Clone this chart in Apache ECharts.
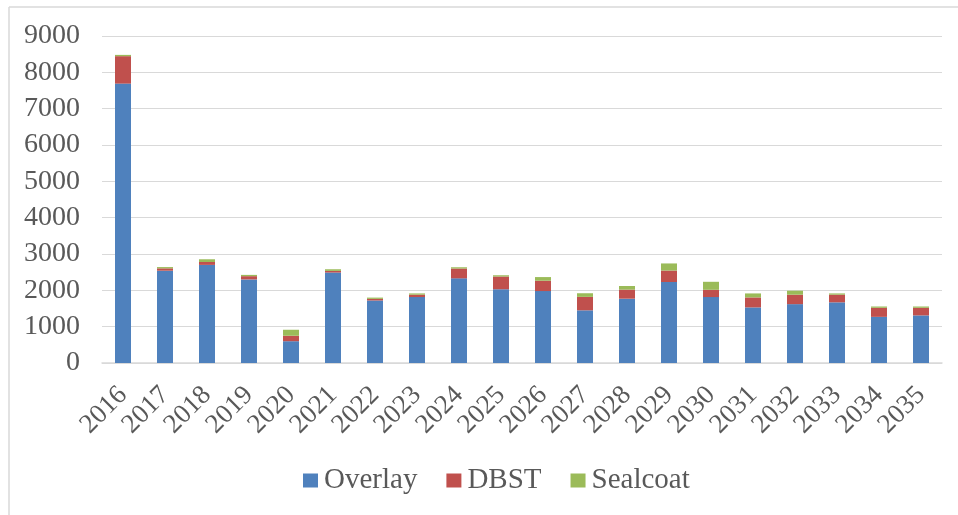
<!DOCTYPE html>
<html>
<head>
<meta charset="utf-8">
<script src="https://cdn.jsdelivr.net/npm/echarts@6/dist/echarts.min.js"></script>
<style>
html,body{margin:0;padding:0;background:#fff;}
#c{width:958px;height:515px;}
</style>
</head>
<body>
<div id="c"></div>
<script>
var categories = ['2016','2017','2018','2019','2020','2021','2022','2023','2024','2025','2026','2027','2028','2029','2030','2031','2032','2033','2034','2035'];
var overlay  = [7690, 2540, 2700, 2300, 600, 2490, 1720, 1815, 2330, 2030, 1980, 1450, 1770, 2230, 1815, 1530, 1620, 1670, 1270, 1310];
var dbst     = [755, 65, 80, 90, 150, 45, 45, 65, 270, 350, 285, 370, 250, 315, 200, 275, 260, 210, 250, 210];
var sealcoat = [35, 35, 75, 35, 165, 45, 35, 35, 35, 35, 100, 100, 100, 195, 220, 110, 110, 35, 35, 35];
var yTicks = [0, 1000, 2000, 3000, 4000, 5000, 6000, 7000, 8000, 9000];

var chart = echarts.init(document.getElementById('c'));
var font = 'Liberation Serif, Times New Roman, serif';
var textColor = '#595959';
function mk(name, data, color) {
  return { name: name, type: 'bar', stack: 'total', data: data, barWidth: 16,
    itemStyle: { color: color }, emphasis: { disabled: true } };
}
chart.setOption({
  animation: false,
  grid: { left: 102, right: 16, top: 36, bottom: 152, containLabel: false },
  legend: {
    left: 298, top: 461, itemWidth: 15, itemHeight: 14, itemGap: 29,
    icon: 'rect',
    textStyle: { fontFamily: font, fontSize: 29, color: textColor, padding: [0,0,0,1] },
    data: ['Overlay','DBST','Sealcoat']
  },
  xAxis: {
    type: 'category', data: categories,
    axisLine: { lineStyle: { color: '#d9d9d9', width: 1.5 } },
    axisTick: { show: false },
    axisLabel: { rotate: 45, interval: 0, margin: 28, fontFamily: font, fontSize: 27, color: textColor }
  },
  yAxis: {
    type: 'value', min: yTicks[0], max: yTicks[yTicks.length-1], interval: 1000,
    axisLine: { show: false }, axisTick: { show: false },
    splitLine: { lineStyle: { color: '#d9d9d9', width: 1 } },
    axisLabel: { margin: 22, fontFamily: font, fontSize: 28, color: textColor,
      formatter: function (v) { return String(v); } }
  },
  graphic: [
    { type: 'line', shape: { x1: 9, y1: 7, x2: 958, y2: 7 }, style: { stroke: '#d9d9d9', lineWidth: 1.5 } },
    { type: 'line', shape: { x1: 9, y1: 7, x2: 9, y2: 515 }, style: { stroke: '#d9d9d9', lineWidth: 1.5 } }
  ],
  series: [
    mk('Overlay', overlay, '#4f81bd'),
    mk('DBST', dbst, '#c0504d'),
    mk('Sealcoat', sealcoat, '#9bbb59')
  ]
});
</script>
</body>
</html>
